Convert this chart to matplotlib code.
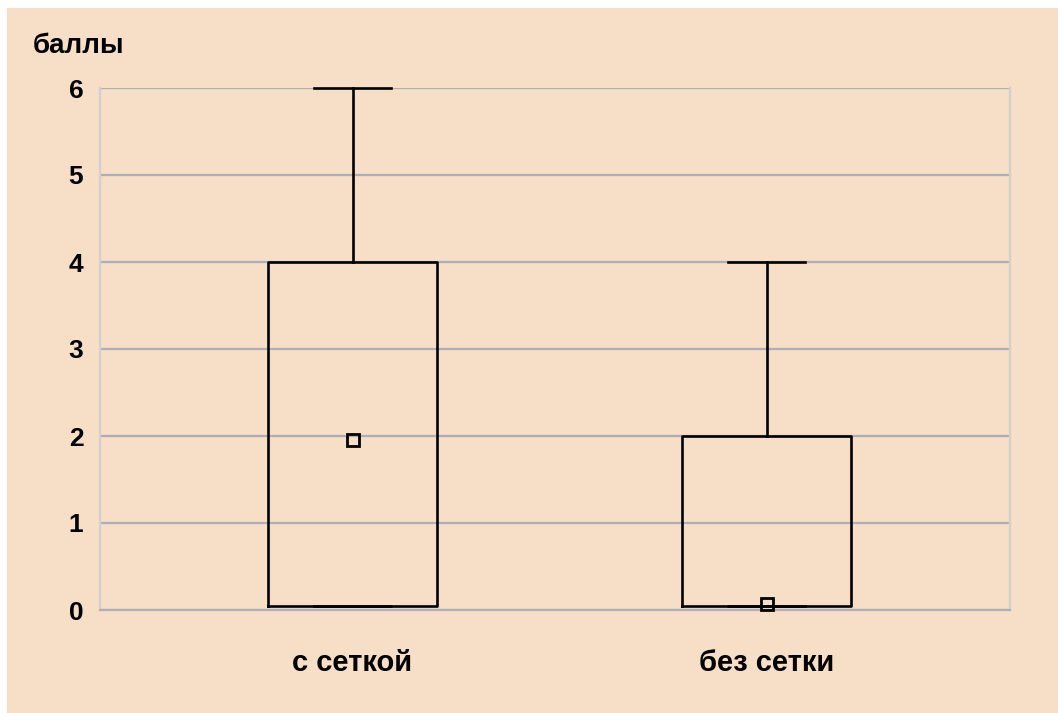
import matplotlib.pyplot as plt
from matplotlib.patches import Rectangle

# data
categories = ['с сеткой', 'без сетки']
q1 = [0.05, 0.05]
q3 = [4, 2]
whis_hi = [6, 4]
means = [1.95, 0.07]

peach = '#f6dec7'
plt.rcParams['font.family'] = ['Liberation Sans', 'DejaVu Sans']

fig = plt.figure(figsize=(10.58, 7.13), dpi=100, facecolor='white')
# peach panel, thin white margin at top/left
fig.patches.append(Rectangle((7/1058, 0), 1, 1 - 8/713, transform=fig.transFigure,
                             facecolor=peach, edgecolor='none', zorder=-10))

ax = fig.add_axes([100/1058, 103/713, 910/1058, 522/713])
ax.set_facecolor(peach)

stats = []
for i in range(len(categories)):
    stats.append(dict(med=q1[i], q1=q1[i], q3=q3[i], whislo=q1[i], whishi=whis_hi[i],
                      mean=means[i], fliers=[], label=categories[i]))

lw = 1.9
ax.bxp(stats, positions=[0, 1], widths=0.408, capwidths=0.186, showmeans=True,
       showfliers=False,
       boxprops=dict(color='black', linewidth=lw),
       whiskerprops=dict(color='black', linewidth=lw),
       capprops=dict(color='black', linewidth=lw),
       medianprops=dict(visible=False),
       meanprops=dict(marker='s', markerfacecolor='none', markeredgecolor='black',
                      markersize=8, markeredgewidth=2))
for a in ax.lines:
    a.set_clip_on(False)
    a.set_zorder(5)

ax.set_xlim(-0.61, 1.588)
ax.set_ylim(0, 6)
ax.set_yticks(range(0, 7))
ax.grid(axis='y', color='#acafb6', linewidth=1.6)
ax.set_axisbelow(True)

ax.spines['top'].set_visible(False)
ax.spines['bottom'].set_color('#acafb6')
ax.spines['bottom'].set_linewidth(1.6)
for s in ['left', 'right']:
    ax.spines[s].set_color('#d3cfcc')
    ax.spines[s].set_linewidth(1.6)

ax.tick_params(axis='both', length=0)
ax.tick_params(axis='y', pad=12, labelsize=19)
ax.tick_params(axis='x', pad=28, labelsize=21)
for t in ax.get_xticklabels() + ax.get_yticklabels():
    t.set_fontweight('bold')

fig.text(33/1058, 1 - 46/713, 'баллы', fontsize=20, fontweight='bold', va='center', ha='left')

fig.savefig('out.png', dpi=100, facecolor=fig.get_facecolor())
